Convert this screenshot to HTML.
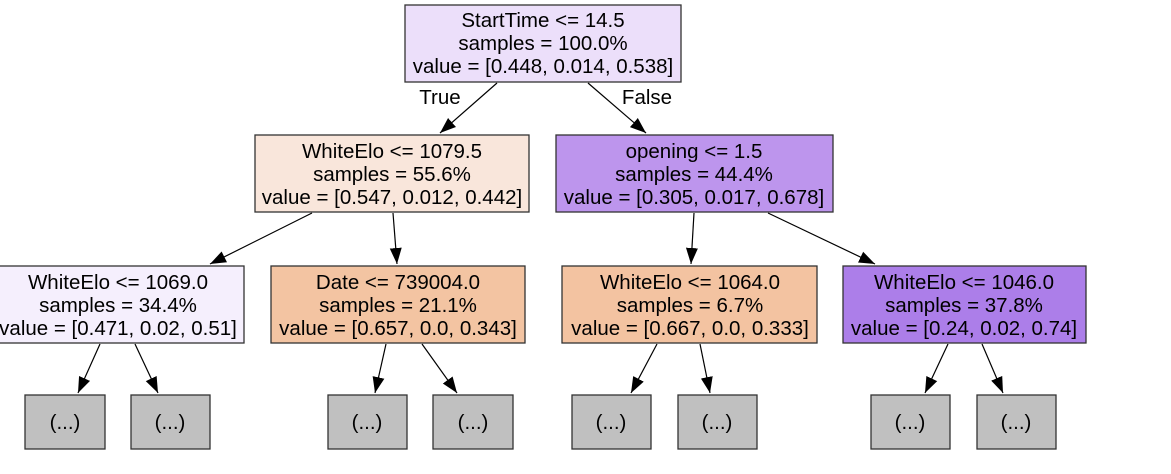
<!DOCTYPE html>
<html><head><meta charset="utf-8"><style>
body{margin:0;background:#fff;width:1171px;height:469px;overflow:hidden}
text{font-family:"Liberation Sans",Arial,sans-serif;font-size:20.5px;fill:#000;text-anchor:middle}
rect{stroke:#333;stroke-width:1.3}
line{stroke:#000;stroke-width:1.2}
</style></head><body>
<svg width="1171" height="469" xmlns="http://www.w3.org/2000/svg">
<defs><marker id="ah" markerWidth="18" markerHeight="14" refX="16" refY="7" orient="auto" markerUnits="userSpaceOnUse"><path d="M0,1 L16,7 L0,13 z" fill="#000"/></marker></defs>
<g>
<line x1="497" y1="83" x2="440" y2="133" marker-end="url(#ah)"/>
<line x1="588" y1="83" x2="646" y2="133" marker-end="url(#ah)"/>
<line x1="312" y1="213" x2="210" y2="264" marker-end="url(#ah)"/>
<line x1="393" y1="213" x2="397" y2="264" marker-end="url(#ah)"/>
<line x1="694" y1="213" x2="691" y2="264" marker-end="url(#ah)"/>
<line x1="768" y1="213" x2="875" y2="264" marker-end="url(#ah)"/>
<line x1="100" y1="344" x2="78" y2="393" marker-end="url(#ah)"/>
<line x1="135" y1="344" x2="158" y2="393" marker-end="url(#ah)"/>
<line x1="386" y1="344" x2="375" y2="393" marker-end="url(#ah)"/>
<line x1="422" y1="344" x2="457" y2="393" marker-end="url(#ah)"/>
<line x1="657" y1="344" x2="631" y2="393" marker-end="url(#ah)"/>
<line x1="700" y1="344" x2="710" y2="393" marker-end="url(#ah)"/>
<line x1="948" y1="344" x2="925" y2="393" marker-end="url(#ah)"/>
<line x1="982" y1="344" x2="1003" y2="393" marker-end="url(#ah)"/>
</g>
<text x="440" y="104">True</text>
<text x="647" y="104">False</text>

<g>
<rect x="405" y="5" width="276" height="77" fill="#ecdffa"/>
<text x="543" y="27">StartTime &lt;= 14.5</text><text x="543" y="50">samples = 100.0%</text><text x="543" y="73">value = [0.448, 0.014, 0.538]</text></g>

<g>
<rect x="255" y="135" width="274" height="77" fill="#f9e6db"/>
<text x="392" y="158">WhiteElo &lt;= 1079.5</text><text x="392" y="181">samples = 55.6%</text><text x="392" y="204">value = [0.547, 0.012, 0.442]</text></g>

<g>
<rect x="556" y="135" width="277" height="77" fill="#bd95ed"/>
<text x="694" y="158">opening &lt;= 1.5</text><text x="694" y="181">samples = 44.4%</text><text x="694" y="204">value = [0.305, 0.017, 0.678]</text></g>

<g>
<rect x="-5" y="266" width="249" height="77" fill="#f5effd"/>
<text x="118" y="289">WhiteElo &lt;= 1069.0</text><text x="118" y="312">samples = 34.4%</text><text x="118" y="335">value = [0.471, 0.02, 0.51]</text></g>

<g>
<rect x="271" y="266" width="254" height="77" fill="#f3c4a2"/>
<text x="398" y="289">Date &lt;= 739004.0</text><text x="398" y="312">samples = 21.1%</text><text x="398" y="335">value = [0.657, 0.0, 0.343]</text></g>

<g>
<rect x="562" y="266" width="255" height="77" fill="#f3c3a1"/>
<text x="690" y="289">WhiteElo &lt;= 1064.0</text><text x="690" y="312">samples = 6.7%</text><text x="690" y="335">value = [0.667, 0.0, 0.333]</text></g>

<g>
<rect x="843" y="266" width="243" height="77" fill="#ac7ee9"/>
<text x="964" y="289">WhiteElo &lt;= 1046.0</text><text x="964" y="312">samples = 37.8%</text><text x="964" y="335">value = [0.24, 0.02, 0.74]</text></g>

<g>
<rect x="25" y="395" width="80" height="54" fill="#c0c0c0"/><text x="65" y="429">(...)</text>
<rect x="131" y="395" width="79" height="54" fill="#c0c0c0"/><text x="170" y="429">(...)</text>
<rect x="328" y="395" width="79" height="54" fill="#c0c0c0"/><text x="367" y="429">(...)</text>
<rect x="433" y="395" width="80" height="54" fill="#c0c0c0"/><text x="473" y="429">(...)</text>
<rect x="572" y="395" width="79" height="54" fill="#c0c0c0"/><text x="611" y="429">(...)</text>
<rect x="678" y="395" width="79" height="54" fill="#c0c0c0"/><text x="717" y="429">(...)</text>
<rect x="871" y="395" width="79" height="54" fill="#c0c0c0"/><text x="910" y="429">(...)</text>
<rect x="977" y="395" width="79" height="54" fill="#c0c0c0"/><text x="1016" y="429">(...)</text>
</g>
</svg>
</body></html>
